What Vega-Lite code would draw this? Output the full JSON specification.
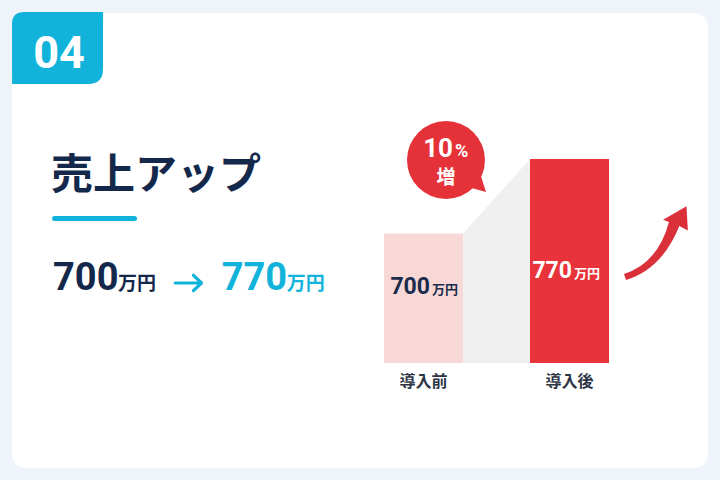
{
  "$schema": "https://vega.github.io/schema/vega-lite/v6.json",
  "width": 720,
  "height": 480,
  "autosize": {"type": "fit", "contains": "padding"},
  "padding": 12,
  "background": "#eef4fa",
  "config": {
    "view": {"fill": "#ffffff", "stroke": null, "cornerRadius": 14},
    "axis": {"disable": true},
    "legend": {"disable": true}
  },
  "data": {"values": [
    {"category": "導入前", "value": 700},
    {"category": "導入後", "value": 770}
  ]},
  "resolve": {"scale": {"x": "independent"}},
  "layer": [
    {
      "layer": [
        {
          "mark": {"type": "area", "color": "#f0f0f0", "opacity": 1},
          "encoding": {
            "x": {"field": "category", "type": "nominal", "scale": {"type": "point", "domain": ["導入前", "導入後"], "range": [451, 518], "padding": 0}},
            "y": {"field": "value", "type": "quantitative", "scale": {"domain": [578, 770], "range": [350, 146], "zero": false, "nice": false}},
            "y2": {"datum": 578}
          }
        }
      ]
    },
    {
      "layer": [
        {
          "mark": {"type": "bar"},
          "encoding": {
            "x": {"field": "category", "type": "nominal", "scale": {"type": "band", "domain": ["導入前", "導入後"], "range": [372, 597], "paddingInner": 0.459, "paddingOuter": 0}},
            "y": {"field": "value", "type": "quantitative", "scale": {"domain": [578, 770], "range": [350, 146], "zero": false, "nice": false}},
            "y2": {"datum": 578},
            "color": {"field": "category", "type": "nominal", "scale": {"domain": ["導入前", "導入後"], "range": ["#f8d8d6", "#e8333b"]}, "legend": null}
          }
        },
        {
          "data": {"values": [{}]},
          "mark": {"type": "point", "shape": "M -1 -0.527 Q -1 -0.791 -0.736 -0.791 L 1 -0.791 L 1 0.461 Q 1 0.791 0.67 0.791 L -1 0.791 Z", "filled": true, "opacity": 1, "strokeWidth": 0, "color": "#12b3db", "size": 8281},
          "encoding": {
            "x": {"datum": "導入前", "type": "nominal", "bandPosition": -4.1329, "scale": {"type": "band", "domain": ["導入前", "導入後"], "range": [372, 597], "paddingInner": 0.459, "paddingOuter": 0}},
            "y": {"datum": 874.47, "type": "quantitative", "scale": {"domain": [578, 770], "range": [350, 146], "zero": false, "nice": false}}
          }
        },
        {
          "data": {"values": [{}]},
          "mark": {"type": "text", "text": "04", "font": "Roboto", "fontWeight": "bold", "fontSize": 45, "color": "#ffffff", "align": "center", "baseline": "alphabetic"},
          "encoding": {
            "x": {"datum": "導入前", "type": "nominal", "bandPosition": -4.1139, "scale": {"type": "band", "domain": ["導入前", "導入後"], "range": [372, 597], "paddingInner": 0.459, "paddingOuter": 0}},
            "y": {"datum": 855.65, "type": "quantitative", "scale": {"domain": [578, 770], "range": [350, 146], "zero": false, "nice": false}}
          }
        },
        {
          "data": {"values": [{}]},
          "mark": {"type": "text", "text": "売上アップ", "font": "Noto Sans CJK JP", "fontWeight": "bold", "fontSize": 42, "color": "#14284b", "align": "left", "baseline": "alphabetic"},
          "encoding": {
            "x": {"datum": "導入前", "type": "nominal", "bandPosition": -4.2152, "scale": {"type": "band", "domain": ["導入前", "導入後"], "range": [372, 597], "paddingInner": 0.459, "paddingOuter": 0}},
            "y": {"datum": 742.14, "type": "quantitative", "scale": {"domain": [578, 770], "range": [350, 146], "zero": false, "nice": false}}
          }
        },
        {
          "data": {"values": [{}]},
          "mark": {"type": "point", "shape": "M -0.94 -0.059 L 0.94 -0.059 Q 1 -0.059 1 0 Q 1 0.059 0.94 0.059 L -0.94 0.059 Q -1 0.059 -1 0 Q -1 -0.059 -0.94 -0.059 Z", "filled": true, "opacity": 1, "strokeWidth": 0, "color": "#12b3db", "size": 7225},
          "encoding": {
            "x": {"datum": "導入前", "type": "nominal", "bandPosition": -3.6646, "scale": {"type": "band", "domain": ["導入前", "導入後"], "range": [372, 597], "paddingInner": 0.459, "paddingOuter": 0}},
            "y": {"datum": 714.0, "type": "quantitative", "scale": {"domain": [578, 770], "range": [350, 146], "zero": false, "nice": false}}
          }
        },
        {
          "transform": [{"filter": "datum.category === '導入前'"}],
          "mark": {"type": "text", "font": "Roboto", "fontWeight": "bold", "fontSize": 38, "color": "#14284b", "align": "left", "baseline": "alphabetic"},
          "encoding": {
            "text": {"field": "value", "type": "quantitative"},
            "x": {"datum": "導入前", "type": "nominal", "bandPosition": -4.1899, "scale": {"type": "band", "domain": ["導入前", "導入後"], "range": [372, 597], "paddingInner": 0.459, "paddingOuter": 0}},
            "y": {"datum": 646.71, "type": "quantitative", "scale": {"domain": [578, 770], "range": [350, 146], "zero": false, "nice": false}}
          }
        },
        {
          "data": {"values": [{}]},
          "mark": {"type": "text", "text": "万円", "font": "Noto Sans CJK JP", "fontWeight": "bold", "fontSize": 19, "color": "#14284b", "align": "left", "baseline": "alphabetic"},
          "encoding": {
            "x": {"datum": "導入前", "type": "nominal", "bandPosition": -3.3671, "scale": {"type": "band", "domain": ["導入前", "導入後"], "range": [372, 597], "paddingInner": 0.459, "paddingOuter": 0}},
            "y": {"datum": 646.71, "type": "quantitative", "scale": {"domain": [578, 770], "range": [350, 146], "zero": false, "nice": false}}
          }
        },
        {
          "data": {"values": [{}]},
          "mark": {"type": "point", "shape": "M -0.95 0 L 0.9 0 M 0.35 -0.55 L 0.93 0 L 0.35 0.55", "filled": false, "opacity": 1, "stroke": "#12b3db", "strokeWidth": 3.2, "strokeCap": "round", "strokeJoin": "round", "size": 784},
          "encoding": {
            "x": {"datum": "導入前", "type": "nominal", "bandPosition": -2.4747, "scale": {"type": "band", "domain": ["導入前", "導入後"], "range": [372, 597], "paddingInner": 0.459, "paddingOuter": 0}},
            "y": {"datum": 653.29, "type": "quantitative", "scale": {"domain": [578, 770], "range": [350, 146], "zero": false, "nice": false}}
          }
        },
        {
          "transform": [{"filter": "datum.category === '導入後'"}],
          "mark": {"type": "text", "font": "Roboto", "fontWeight": "bold", "fontSize": 38, "color": "#12b3db", "align": "left", "baseline": "alphabetic"},
          "encoding": {
            "text": {"field": "value", "type": "quantitative"},
            "x": {"datum": "導入前", "type": "nominal", "bandPosition": -2.0544, "scale": {"type": "band", "domain": ["導入前", "導入後"], "range": [372, 597], "paddingInner": 0.459, "paddingOuter": 0}},
            "y": {"datum": 646.71, "type": "quantitative", "scale": {"domain": [578, 770], "range": [350, 146], "zero": false, "nice": false}}
          }
        },
        {
          "data": {"values": [{}]},
          "mark": {"type": "text", "text": "万円", "font": "Noto Sans CJK JP", "fontWeight": "bold", "fontSize": 19, "color": "#12b3db", "align": "left", "baseline": "alphabetic"},
          "encoding": {
            "x": {"datum": "導入前", "type": "nominal", "bandPosition": -1.2316, "scale": {"type": "band", "domain": ["導入前", "導入後"], "range": [372, 597], "paddingInner": 0.459, "paddingOuter": 0}},
            "y": {"datum": 646.71, "type": "quantitative", "scale": {"domain": [578, 770], "range": [350, 146], "zero": false, "nice": false}}
          }
        },
        {
          "transform": [{"filter": "datum.category === '導入前'"}],
          "mark": {"type": "text", "font": "Roboto", "fontWeight": "bold", "fontSize": 23, "color": "#1a2b4c", "align": "right", "baseline": "alphabetic"},
          "encoding": {
            "text": {"field": "value", "type": "quantitative"},
            "x": {"field": "category", "type": "nominal", "bandPosition": 0.5823, "scale": {"type": "band", "domain": ["導入前", "導入後"], "range": [372, 597], "paddingInner": 0.459, "paddingOuter": 0}},
            "y": {"datum": 642.94, "type": "quantitative", "scale": {"domain": [578, 770], "range": [350, 146], "zero": false, "nice": false}}
          }
        },
        {
          "transform": [{"filter": "datum.category === '導入前'"}],
          "mark": {"type": "text", "text": "万円", "font": "Noto Sans CJK JP", "fontWeight": "bold", "fontSize": 13, "color": "#1a2b4c", "align": "left", "baseline": "alphabetic"},
          "encoding": {
            "x": {"field": "category", "type": "nominal", "bandPosition": 0.6076, "scale": {"type": "band", "domain": ["導入前", "導入後"], "range": [372, 597], "paddingInner": 0.459, "paddingOuter": 0}},
            "y": {"datum": 642.94, "type": "quantitative", "scale": {"domain": [578, 770], "range": [350, 146], "zero": false, "nice": false}}
          }
        },
        {
          "transform": [{"filter": "datum.category === '導入後'"}],
          "mark": {"type": "text", "font": "Roboto", "fontWeight": "bold", "fontSize": 23, "color": "#ffffff", "align": "right", "baseline": "alphabetic"},
          "encoding": {
            "text": {"field": "value", "type": "quantitative"},
            "x": {"field": "category", "type": "nominal", "bandPosition": 0.5316, "scale": {"type": "band", "domain": ["導入前", "導入後"], "range": [372, 597], "paddingInner": 0.459, "paddingOuter": 0}},
            "y": {"datum": 658.28, "type": "quantitative", "scale": {"domain": [578, 770], "range": [350, 146], "zero": false, "nice": false}}
          }
        },
        {
          "transform": [{"filter": "datum.category === '導入後'"}],
          "mark": {"type": "text", "text": "万円", "font": "Noto Sans CJK JP", "fontWeight": "bold", "fontSize": 13, "color": "#ffffff", "align": "left", "baseline": "alphabetic"},
          "encoding": {
            "x": {"field": "category", "type": "nominal", "bandPosition": 0.557, "scale": {"type": "band", "domain": ["導入前", "導入後"], "range": [372, 597], "paddingInner": 0.459, "paddingOuter": 0}},
            "y": {"datum": 658.28, "type": "quantitative", "scale": {"domain": [578, 770], "range": [350, 146], "zero": false, "nice": false}}
          }
        },
        {
          "mark": {"type": "text", "font": "Noto Sans CJK JP", "fontWeight": "bold", "fontSize": 16, "color": "#2b3344", "align": "center", "baseline": "alphabetic"},
          "encoding": {
            "text": {"field": "category", "type": "nominal"},
            "x": {"field": "category", "type": "nominal", "bandPosition": 0.5, "scale": {"type": "band", "domain": ["導入前", "導入後"], "range": [372, 597], "paddingInner": 0.459, "paddingOuter": 0}},
            "y": {"datum": 555.41, "type": "quantitative", "scale": {"domain": [578, 770], "range": [350, 146], "zero": false, "nice": false}}
          }
        },
        {
          "data": {"values": [{}]},
          "mark": {"type": "point", "shape": "M 0.2 -1.0 L 0.8 0.9 L -1.0 0.4 Z", "filled": true, "opacity": 1, "strokeWidth": 0, "color": "#e53238", "size": 400},
          "encoding": {
            "x": {"datum": "導入前", "type": "nominal", "bandPosition": 1.1899, "scale": {"type": "band", "domain": ["導入前", "導入後"], "range": [372, 597], "paddingInner": 0.459, "paddingOuter": 0}},
            "y": {"datum": 747.41, "type": "quantitative", "scale": {"domain": [578, 770], "range": [350, 146], "zero": false, "nice": false}}
          }
        },
        {
          "data": {"values": [{}]},
          "mark": {"type": "point", "shape": "circle", "filled": true, "opacity": 1, "strokeWidth": 0, "color": "#e53238", "size": 6084},
          "encoding": {
            "x": {"datum": "導入前", "type": "nominal", "bandPosition": 0.7848, "scale": {"type": "band", "domain": ["導入前", "導入後"], "range": [372, 597], "paddingInner": 0.459, "paddingOuter": 0}},
            "y": {"datum": 769.06, "type": "quantitative", "scale": {"domain": [578, 770], "range": [350, 146], "zero": false, "nice": false}}
          }
        },
        {
          "data": {"values": [{}]},
          "mark": {"type": "text", "text": "10", "font": "Roboto", "fontWeight": "bold", "fontSize": 26, "color": "#ffffff", "align": "right", "baseline": "alphabetic"},
          "encoding": {
            "x": {"datum": "導入前", "type": "nominal", "bandPosition": 0.8734, "scale": {"type": "band", "domain": ["導入前", "導入後"], "range": [372, 597], "paddingInner": 0.459, "paddingOuter": 0}},
            "y": {"datum": 771.88, "type": "quantitative", "scale": {"domain": [578, 770], "range": [350, 146], "zero": false, "nice": false}}
          }
        },
        {
          "data": {"values": [{}]},
          "mark": {"type": "text", "text": "%", "font": "Roboto", "fontWeight": "bold", "fontSize": 18, "color": "#ffffff", "align": "left", "baseline": "alphabetic"},
          "encoding": {
            "x": {"datum": "導入前", "type": "nominal", "bandPosition": 0.8987, "scale": {"type": "band", "domain": ["導入前", "導入後"], "range": [372, 597], "paddingInner": 0.459, "paddingOuter": 0}},
            "y": {"datum": 771.88, "type": "quantitative", "scale": {"domain": [578, 770], "range": [350, 146], "zero": false, "nice": false}}
          }
        },
        {
          "data": {"values": [{}]},
          "mark": {"type": "text", "text": "増", "font": "Noto Sans CJK JP", "fontWeight": "bold", "fontSize": 19, "color": "#ffffff", "align": "center", "baseline": "alphabetic"},
          "encoding": {
            "x": {"datum": "導入前", "type": "nominal", "bandPosition": 0.7848, "scale": {"type": "band", "domain": ["導入前", "導入後"], "range": [372, 597], "paddingInner": 0.459, "paddingOuter": 0}},
            "y": {"datum": 746.47, "type": "quantitative", "scale": {"domain": [578, 770], "range": [350, 146], "zero": false, "nice": false}}
          }
        },
        {
          "data": {"values": [{}]},
          "mark": {"type": "point", "shape": "M -0.689 0.667 Q 0.067 0.422 0.311 -0.489 L 0.18 -0.54 L 0.7 -0.84 L 0.73 -0.3 L 0.54 -0.4 Q 0.156 0.556 -0.644 0.8 Z", "filled": true, "opacity": 1, "strokeWidth": 0, "color": "#d9303a", "size": 8100},
          "encoding": {
            "x": {"datum": "導入後", "type": "nominal", "bandPosition": 1.5823, "scale": {"type": "band", "domain": ["導入前", "導入後"], "range": [372, 597], "paddingInner": 0.459, "paddingOuter": 0}},
            "y": {"datum": 690.0, "type": "quantitative", "scale": {"domain": [578, 770], "range": [350, 146], "zero": false, "nice": false}}
          }
        }
      ]
    }
  ]
}
